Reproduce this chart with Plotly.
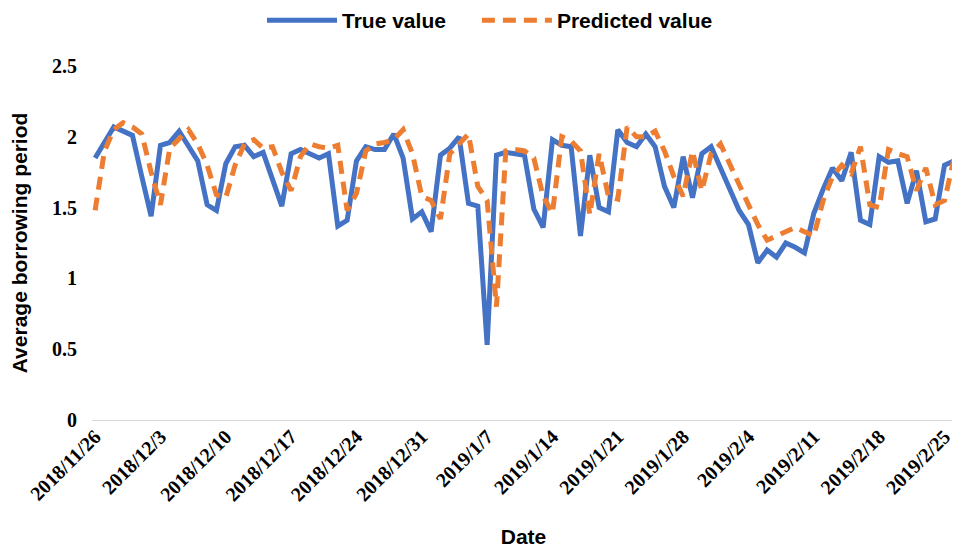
import pandas as pd
import plotly.graph_objects as go

dates = pd.date_range("2018-11-26", "2019-02-26", freq="D").strftime("%Y-%m-%d").tolist()

true_value = [
    1.85, 1.96, 2.07, 2.04, 2.01, 1.72, 1.44, 1.94, 1.96, 2.04,
    1.93, 1.83, 1.52, 1.48, 1.81, 1.93, 1.94, 1.86, 1.89, 1.70,
    1.51, 1.88, 1.91, 1.88, 1.85, 1.88, 1.37, 1.41, 1.83, 1.93,
    1.91, 1.91, 2.02, 1.85, 1.42, 1.47, 1.33, 1.87, 1.92, 2.00,
    1.53, 1.51, 0.53, 1.87, 1.89, 1.88, 1.87, 1.49, 1.36, 1.98,
    1.94, 1.93, 1.30, 1.87, 1.50, 1.47, 2.05, 1.96, 1.93, 2.02,
    1.93, 1.65, 1.50, 1.86, 1.57, 1.88, 1.93, 1.78, 1.64, 1.48,
    1.38, 1.11, 1.20, 1.15, 1.25, 1.22, 1.18, 1.46, 1.63, 1.78,
    1.69, 1.89, 1.41, 1.38, 1.86, 1.82, 1.83, 1.53, 1.76, 1.40,
    1.42, 1.80, 1.83,
]

predicted_value = [
    1.48, 1.90, 2.05, 2.10, 2.07, 2.02, 1.75, 1.52, 1.92, 1.99,
    2.05, 1.95, 1.80, 1.59, 1.57, 1.80, 1.95, 1.98, 1.92, 1.93,
    1.75, 1.62, 1.86, 1.95, 1.93, 1.92, 1.94, 1.48, 1.60, 1.90,
    1.95, 1.96, 1.98, 2.05, 1.88, 1.58, 1.55, 1.42, 1.88, 1.95,
    2.02, 1.65, 1.55, 0.80, 1.90, 1.91, 1.90, 1.85, 1.58, 1.46,
    2.00, 1.97, 1.90, 1.45, 1.88, 1.58, 1.56, 2.07, 2.00, 2.00,
    2.04, 1.90, 1.72, 1.58, 1.90, 1.62, 1.88, 1.95, 1.80, 1.66,
    1.52, 1.38, 1.27, 1.30, 1.33, 1.36, 1.33, 1.30, 1.55, 1.72,
    1.80, 1.74, 1.93, 1.52, 1.50, 1.91, 1.88, 1.86, 1.62, 1.78,
    1.52, 1.55, 1.84,
]

tick_dates = ["2018-11-26", "2018-12-03", "2018-12-10", "2018-12-17", "2018-12-24",
              "2018-12-31", "2019-01-07", "2019-01-14", "2019-01-21", "2019-01-28",
              "2019-02-04", "2019-02-11", "2019-02-18", "2019-02-25"]
tick_labels = ["2018/11/26", "2018/12/3", "2018/12/10", "2018/12/17", "2018/12/24",
               "2018/12/31", "2019/1/7", "2019/1/14", "2019/1/21", "2019/1/28",
               "2019/2/4", "2019/2/11", "2019/2/18", "2019/2/25"]

y_ticks = [0, 0.5, 1, 1.5, 2, 2.5]
y_tick_labels = ["0", "0.5", "1", "1.5", "2", "2.5"]

fig = go.Figure()
fig.add_trace(go.Scatter(
    x=dates, y=true_value, mode="lines", name="True value",
    line=dict(color="#4472C4", width=5), legend="legend",
))
fig.add_trace(go.Scatter(
    x=dates, y=predicted_value, mode="lines", name="Predicted value",
    line=dict(color="#ED7D31", width=5, dash="13px,8px"), legend="legend2",
))

legend_font = dict(family="Liberation Sans", size=21, color="black", weight="bold")
legend_common = dict(
    orientation="h", xanchor="left",
    yref="container", y=1 - 12.5 / 540, yanchor="middle",
    font=legend_font, itemwidth=70, bgcolor="rgba(0,0,0,0)",
)

# the page body has an 8px margin, so the figure is sized/placed to compensate
fig.update_layout(
    width=952, height=540,
    margin=dict(l=84, r=5, t=58, b=128, autoexpand=False),
    paper_bgcolor="white", plot_bgcolor="white",
    showlegend=True,
    legend=dict(x=0.197, **legend_common),
    legend2=dict(x=0.446, **legend_common),
    xaxis=dict(
        type="date", automargin=False,
        range=["2018-11-25 16:00", "2019-02-26 03:00"],
        tickvals=tick_dates, ticktext=tick_labels,
        tickangle=-45,
        tickfont=dict(family="Liberation Serif", size=20, color="black", weight="bold"),
        showgrid=False, zeroline=False,
        showline=False, ticks="",
        title=dict(text="Date", font=dict(family="Liberation Sans", size=21, color="black", weight="bold"), standoff=29),
    ),
    yaxis=dict(
        range=[0, 2.5], automargin=False,
        tickvals=y_ticks, ticktext=y_tick_labels,
        tickfont=dict(family="Liberation Serif", size=20, color="black", weight="bold"),
        showgrid=False, zeroline=True, zerolinecolor="#D9D9D9", zerolinewidth=1.3,
        showline=False,
        ticks="outside", ticklen=10, tickcolor="rgba(0,0,0,0)",
        title=dict(text="Average borrowing period", font=dict(family="Liberation Sans", size=21, color="black", weight="bold"), standoff=18),
    ),
)

fig.write_html("out.html")
